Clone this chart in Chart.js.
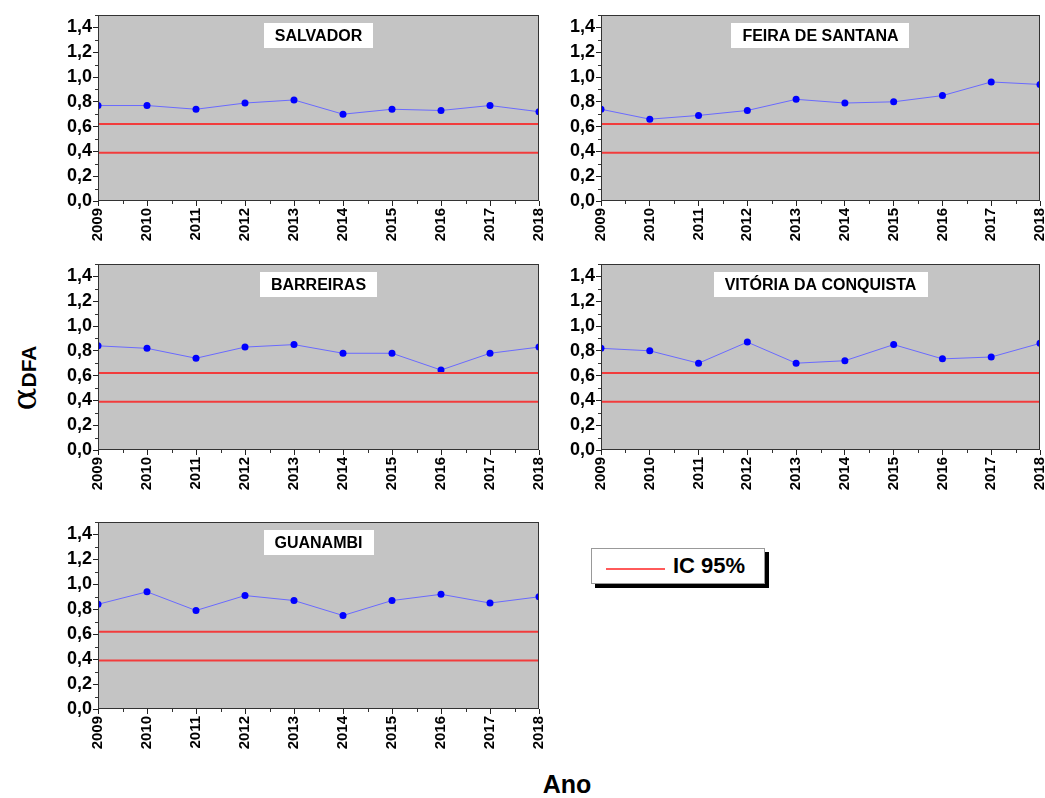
<!DOCTYPE html>
<html>
<head>
<meta charset="utf-8">
<script src="https://cdn.jsdelivr.net/npm/chart.js@4/dist/chart.umd.min.js"></script>
<style>
  body { margin: 0; background: #fff; width: 1045px; height: 798px; overflow: hidden; position: relative; font-family: "Liberation Sans", Arial, sans-serif; }
  .panel { position: absolute; }
  #yTitle { position: absolute; left: 24px; top: 378px; transform: translate(-50%, -50%) rotate(-90deg); white-space: nowrap; color: #000; line-height: 1; }
  #xTitle { position: absolute; left: 567px; top: 784px; transform: translate(-50%, -50%); font-weight: bold; font-size: 25px; color: #000; }
  #legend { position: absolute; left: 591px; top: 548px; width: 172px; height: 34px; border: 1px solid #999; background: #fff; box-shadow: 4px 4px 0 #000; }
  #legend .line { position: absolute; left: 14px; top: 19px; width: 59px; height: 0; border-top: 2px solid #ff5a5a; }
  #legend .txt { position: absolute; left: 81px; top: 3px; font-weight: bold; font-size: 22px; line-height: 28px; color: #000; }
</style>
</head>
<body>

<div id="yTitle"><span style="font-family:'DejaVu Serif',serif;font-size:34px;">α</span><span style="font-weight:bold;font-size:21px;">DFA</span></div>
<div id="xTitle">Ano</div>
<div id="legend"><div class="line"></div><div class="txt">IC 95%</div></div>

<script>
// years on the x axis
const years = ['2009', '2010', '2011', '2012', '2013', '2014', '2015', '2016', '2017', '2018'];

// alpha DFA per city
const salvador = [0.77, 0.77, 0.74, 0.79, 0.815, 0.70, 0.74, 0.73, 0.77, 0.72];
const feiraDeSantana = [0.74, 0.66, 0.69, 0.73, 0.82, 0.79, 0.80, 0.85, 0.96, 0.94];
const barreiras = [0.84, 0.82, 0.74, 0.83, 0.85, 0.78, 0.78, 0.645, 0.78, 0.83];
const vitoriaDaConquista = [0.82, 0.80, 0.70, 0.87, 0.70, 0.72, 0.85, 0.735, 0.75, 0.86];
const guanambi = [0.84, 0.94, 0.79, 0.91, 0.87, 0.75, 0.87, 0.92, 0.85, 0.90];

// 95% confidence band limits
const icUpper = 0.62;
const icLower = 0.39;

// y axis range
const yMin = 0;
const yMax = 1.5;

// panel placement: plot area left, top, right, bottom (px on the page)
const panels = [
  { name: 'SALVADOR', values: salvador, box: [98, 15, 539, 201] },
  { name: 'FEIRA DE SANTANA', values: feiraDeSantana, box: [601, 15, 1040, 201] },
  { name: 'BARREIRAS', values: barreiras, box: [98, 264, 539, 450] },
  { name: 'VITÓRIA DA CONQUISTA', values: vitoriaDaConquista, box: [601, 264, 1040, 450] },
  { name: 'GUANAMBI', values: guanambi, box: [98, 522, 539, 709] }
];

const Y_AXIS_W = 60;
const X_AXIS_H = 50;
const PAD_TOP = 8;
const PAD_RIGHT = 12;

// gray plot background, frame, minor ticks and the city label
const panelDecor = {
  id: 'panelDecor',
  beforeDraw(chart) {
    const a = chart.chartArea;
    const ctx = chart.ctx;
    ctx.save();
    ctx.fillStyle = '#c4c4c4';
    ctx.fillRect(a.left, a.top, a.right - a.left, a.bottom - a.top);
    ctx.restore();
  },
  afterDraw(chart) {
    const a = chart.chartArea;
    const ctx = chart.ctx;
    const xs = chart.scales.x;
    const ys = chart.scales.y;
    ctx.save();
    ctx.strokeStyle = '#333';
    ctx.lineWidth = 1;
    ctx.strokeRect(a.left + 0.5, a.top + 0.5, a.right - a.left - 1, a.bottom - a.top - 1);

    // minor ticks on y every 0.1
    ctx.beginPath();
    for (let k = 1; k <= 15; k += 2) {
      const py = Math.round(ys.getPixelForValue(k / 10)) + 0.5;
      ctx.moveTo(a.left - 3, py);
      ctx.lineTo(a.left, py);
    }
    // minor ticks on x between years
    for (let i = 0; i < years.length - 1; i++) {
      const px = Math.round((xs.getPixelForValue(i) + xs.getPixelForValue(i + 1)) / 2) + 0.5;
      ctx.moveTo(px, a.bottom);
      ctx.lineTo(px, a.bottom + 3);
    }
    ctx.stroke();

    // city label box
    const title = chart.options.plugins.panelDecor.title;
    ctx.font = 'bold 16px "Liberation Sans", Arial, sans-serif';
    const tw = ctx.measureText(title).width;
    const cx = (a.left + a.right) / 2;
    const bw = tw + 22;
    const bh = 25;
    const by = a.top + 8;
    ctx.fillStyle = '#fff';
    ctx.fillRect(Math.round(cx - bw / 2), by, Math.round(bw), bh);
    ctx.fillStyle = '#000';
    ctx.textAlign = 'center';
    ctx.textBaseline = 'middle';
    ctx.fillText(title, cx, by + bh / 2 + 1);
    ctx.restore();
  }
};

function makePanel(p) {
  const [L, T, R, B] = p.box;
  const w = (R - L) + Y_AXIS_W + PAD_RIGHT;
  const h = (B - T) + PAD_TOP + X_AXIS_H;

  const holder = document.createElement('div');
  holder.className = 'panel';
  holder.style.left = (L - Y_AXIS_W) + 'px';
  holder.style.top = (T - PAD_TOP) + 'px';
  holder.style.width = w + 'px';
  holder.style.height = h + 'px';
  const canvas = document.createElement('canvas');
  canvas.width = w;
  canvas.height = h;
  holder.appendChild(canvas);
  document.body.appendChild(holder);

  new Chart(canvas.getContext('2d'), {
    type: 'line',
    data: {
      labels: years,
      datasets: [
        {
          label: 'IC superior',
          data: [{ x: years[0], y: icUpper }, { x: years[years.length - 1], y: icUpper }],
          borderColor: '#f23c3c',
          borderWidth: 2,
          pointRadius: 0,
          clip: 0
        },
        {
          label: 'IC inferior',
          data: [{ x: years[0], y: icLower }, { x: years[years.length - 1], y: icLower }],
          borderColor: '#f23c3c',
          borderWidth: 2,
          pointRadius: 0,
          clip: 0
        },
        {
          label: p.name,
          data: p.values,
          borderColor: '#6a6aff',
          borderWidth: 1,
          pointRadius: 3.5,
          pointBackgroundColor: '#0000ff',
          pointBorderWidth: 0,
          tension: 0,
          clip: 0
        }
      ]
    },
    options: {
      responsive: false,
      animation: false,
      layout: { padding: { top: PAD_TOP, right: PAD_RIGHT, left: 0, bottom: 0 } },
      plugins: {
        legend: { display: false },
        tooltip: { enabled: false },
        panelDecor: { title: p.name }
      },
      scales: {
        x: {
          type: 'category',
          offset: false,
          afterFit(scale) {
            scale.height = X_AXIS_H;
            scale.paddingLeft = 0;
            scale.paddingRight = 0;
          },
          grid: { display: true, drawOnChartArea: false, drawTicks: true, tickLength: 5, color: '#222' },
          border: { display: false },
          ticks: {
            minRotation: 90,
            maxRotation: 90,
            autoSkip: false,
            padding: 2,
            color: '#000',
            font: { family: '"Liberation Sans Narrow", "Liberation Sans", Arial, sans-serif', weight: 'bold', size: 15 }
          }
        },
        y: {
          min: yMin,
          max: yMax,
          afterFit(scale) {
            scale.width = Y_AXIS_W;
            scale.paddingTop = 0;
            scale.paddingBottom = 0;
          },
          grid: { display: true, drawOnChartArea: false, drawTicks: true, tickLength: 5, color: '#222' },
          border: { display: false },
          ticks: {
            stepSize: 0.2,
            includeBounds: false,
            padding: 1,
            color: '#000',
            font: { family: '"Liberation Sans", Arial, sans-serif', weight: 'bold', size: 18 },
            callback: (v) => v.toFixed(1).replace('.', ',')
          }
        }
      }
    },
    plugins: [panelDecor]
  });
}

panels.forEach(makePanel);
</script>
</body>
</html>
